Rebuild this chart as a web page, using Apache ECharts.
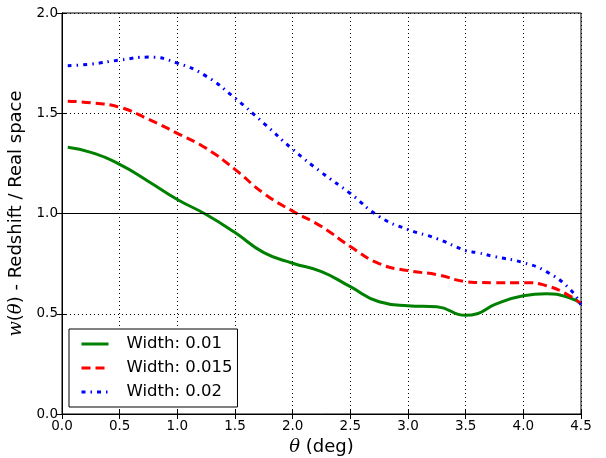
<!DOCTYPE html>
<html><head><meta charset="utf-8">
<script src="https://cdn.jsdelivr.net/npm/echarts@6/dist/echarts.min.js"></script>
<style>html,body{margin:0;padding:0;background:#fff}#c{width:606px;height:458px}</style>
</head><body><div id="c"></div>
<script>
const theta = [0.05, 0.25, 0.5, 0.75, 1.0, 1.25, 1.5, 1.75, 2.0, 2.25, 2.5, 2.75, 3.0, 3.25, 3.5, 3.6, 3.75, 4.0, 4.2, 4.4, 4.5];
const width001 = [1.33, 1.305, 1.245, 1.16, 1.07, 0.995, 0.905, 0.805, 0.752, 0.71, 0.635, 0.56, 0.54, 0.535, 0.492, 0.50, 0.545, 0.59, 0.60, 0.58, 0.55];
const width0015 = [1.56, 1.552, 1.53, 1.47, 1.40, 1.325, 1.22, 1.10, 1.012, 0.935, 0.835, 0.75, 0.715, 0.695, 0.66, 0.656, 0.655, 0.655, 0.64, 0.59, 0.55];
const width002 = [1.737, 1.745, 1.765, 1.78, 1.75, 1.685, 1.575, 1.45, 1.32, 1.205, 1.10, 0.985, 0.92, 0.875, 0.815, 0.805, 0.785, 0.755, 0.71, 0.625, 0.545];
const seriesNames = ['Width: 0.01', 'Width: 0.015', 'Width: 0.02'];

const pair = (ys) => theta.map((x, i) => [x, ys[i]]);
const font = 'DejaVu Sans';
const chart = echarts.init(document.getElementById('c'), null, {renderer: 'canvas'});
const tickStyle = {show: true, inside: true, length: 5, lineStyle: {color: '#000', width: 1}};
const gridLine = {show: true, lineStyle: {color: '#000', type: [1, 3], width: 1}};
chart.setOption({
  animation: false,
  backgroundColor: '#fff',
  grid: {left: 62, right: 25, top: 13, bottom: 44, show: true, borderColor: '#000', borderWidth: 1,
         containLabel: false, outerBoundsMode: 'none'},
  xAxis: [{
    type: 'value', min: 0, max: 4.5, interval: 0.5,
    name: '{i|θ} (deg)', nameLocation: 'middle', nameGap: 24,
    nameTextStyle: {fontFamily: font, fontSize: 18, color: '#000', rich: {i: {fontStyle: 'italic', fontFamily: 'DejaVu Serif', fontSize: 18}}},
    axisLine: {show: true, lineStyle: {color: '#000'}},
    axisTick: tickStyle,
    axisLabel: {fontFamily: font, fontSize: 13.5, color: '#000', margin: 5, formatter: v => v.toFixed(1)},
    splitLine: gridLine
  }, {
    type: 'value', min: 0, max: 4.5, interval: 0.5, position: 'top',
    axisLine: {show: true, lineStyle: {color: '#000'}},
    axisTick: tickStyle, axisLabel: {show: false}, splitLine: {show: false}
  }],
  yAxis: [{
    type: 'value', min: 0, max: 2.0, interval: 0.5,
    name: '{i|w}({i|θ}) - Redshift / Real space', nameLocation: 'middle', nameGap: 22,
    nameTextStyle: {fontFamily: font, fontSize: 18, color: '#000', rich: {i: {fontStyle: 'italic', fontFamily: 'DejaVu Serif', fontSize: 18}}},
    axisLine: {show: true, lineStyle: {color: '#000'}},
    axisTick: tickStyle,
    axisLabel: {fontFamily: font, fontSize: 13.5, color: '#000', margin: 4, formatter: v => v.toFixed(1)},
    splitLine: gridLine
  }, {
    type: 'value', min: 0, max: 2.0, interval: 0.5, position: 'right',
    axisLine: {show: true, lineStyle: {color: '#000'}},
    axisTick: tickStyle, axisLabel: {show: false}, splitLine: {show: false}
  }],
  legend: {
    left: 69, top: 329, orient: 'vertical',
    borderColor: '#000', borderWidth: 1, borderRadius: 0,
    padding: [5, 5, 5, 11], itemGap: 4, itemWidth: 27, itemHeight: 12,
    backgroundColor: '#fff',
    itemStyle: {opacity: 0},
    lineStyle: {width: 3},
    textStyle: {fontFamily: font, fontSize: 16.5, lineHeight: 20, color: '#000', padding: [0, 0, 0, 13]},
    data: seriesNames
  },
  series: [
    {name: seriesNames[0], type: 'line', smooth: 0.5, symbol: 'none', data: pair(width001),
     lineStyle: {color: '#008000', width: 3}, itemStyle: {color: '#008000'}, z: 3,
     markLine: {silent: true, symbol: 'none', label: {show: false}, lineStyle: {color: '#000', type: 'solid', width: 1}, data: [{yAxis: 1.0}]}},
    {name: seriesNames[1], type: 'line', smooth: 0.5, symbol: 'none', data: pair(width0015),
     lineStyle: {color: '#ff0000', width: 3, type: [9, 5]}, itemStyle: {color: '#ff0000'}, z: 4},
    {name: seriesNames[2], type: 'line', smooth: 0.5, symbol: 'none', data: pair(width002),
     lineStyle: {color: '#0000ff', width: 3, type: [4, 5, 1.5, 5]}, itemStyle: {color: '#0000ff'}, z: 5}
  ]
});
</script></body></html>
